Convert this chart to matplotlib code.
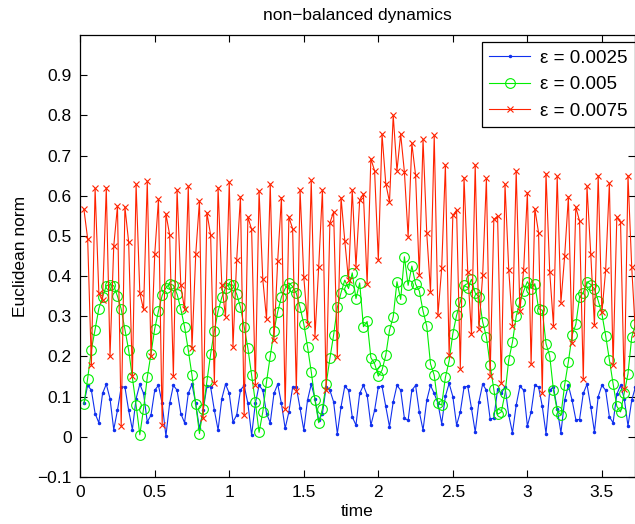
import numpy as np
import matplotlib
matplotlib.use("Agg")
import matplotlib.pyplot as plt

# =====================================================
# DATA
# =====================================================

eps_0025 = [
    0.083, 0.128, 0.116, 0.058, 0.035, 0.108, 0.131, 0.095, 0.018, 0.066,
    0.124, 0.124, 0.066, 0.018, 0.095, 0.131, 0.108, 0.037, 0.054, 0.116,
    0.128, 0.083, 0.002, 0.083, 0.128, 0.116, 0.058, 0.035, 0.108, 0.131,
    0.083, 0.021, 0.066, 0.126, 0.124, 0.066, 0.017, 0.095, 0.131, 0.108,
    0.037, 0.054, 0.116, 0.128, 0.083, 0.004, 0.083, 0.128, 0.116, 0.058,
    0.035, 0.108, 0.131, 0.083, 0.021, 0.062, 0.123, 0.123, 0.071, 0.017,
    0.091, 0.131, 0.095, 0.041, 0.058, 0.124, 0.116, 0.087, 0.008, 0.075,
    0.126, 0.116, 0.050, 0.029, 0.108, 0.128, 0.104, 0.029, 0.066, 0.124,
    0.126, 0.076, 0.025, 0.087, 0.128, 0.116, 0.046, 0.041, 0.116, 0.128,
    0.062, 0.017, 0.091, 0.128, 0.108, 0.083, 0.033, 0.101, 0.133, 0.100,
    0.029, 0.062, 0.123, 0.126, 0.071, 0.012, 0.087, 0.131, 0.116, 0.045,
    0.046, 0.118, 0.108, 0.124, 0.054, 0.010, 0.079, 0.126, 0.116, 0.027,
    0.062, 0.128, 0.124, 0.076, 0.008, 0.116, 0.124, 0.070, 0.010, 0.091,
    0.128, 0.091, 0.043, 0.043, 0.108, 0.131, 0.075, 0.012, 0.100, 0.128,
    0.116, 0.050, 0.035, 0.106, 0.128, 0.095, 0.027, 0.091, 0.124,
]

eps_005 = [
    0.081, 0.145, 0.216, 0.267, 0.319, 0.348, 0.376, 0.379, 0.376, 0.350,
    0.318, 0.267, 0.216, 0.148, 0.079, 0.005, 0.070, 0.148, 0.207, 0.269,
    0.313, 0.352, 0.371, 0.381, 0.377, 0.355, 0.318, 0.274, 0.216, 0.153,
    0.081, 0.008, 0.070, 0.139, 0.206, 0.264, 0.313, 0.347, 0.371, 0.381,
    0.377, 0.355, 0.323, 0.274, 0.220, 0.153, 0.087, 0.011, 0.062, 0.137,
    0.201, 0.264, 0.311, 0.348, 0.369, 0.383, 0.374, 0.357, 0.322, 0.281,
    0.224, 0.162, 0.091, 0.035, 0.070, 0.131, 0.195, 0.253, 0.322, 0.359,
    0.390, 0.369, 0.408, 0.344, 0.383, 0.274, 0.287, 0.197, 0.182, 0.151,
    0.166, 0.203, 0.265, 0.299, 0.386, 0.342, 0.448, 0.377, 0.425, 0.380,
    0.363, 0.313, 0.275, 0.182, 0.153, 0.083, 0.079, 0.148, 0.189, 0.257,
    0.302, 0.336, 0.377, 0.371, 0.392, 0.358, 0.348, 0.286, 0.249, 0.179,
    0.118, 0.056, 0.062, 0.108, 0.191, 0.236, 0.300, 0.336, 0.363, 0.386,
    0.369, 0.381, 0.319, 0.315, 0.232, 0.201, 0.116, 0.065, 0.054, 0.129,
    0.187, 0.253, 0.280, 0.347, 0.359, 0.386, 0.379, 0.368, 0.339, 0.306,
    0.252, 0.192, 0.132, 0.076, 0.062, 0.110, 0.157, 0.248, 0.280,
]

eps_0075 = [
    0.566, 0.493, 0.178, 0.618, 0.358, 0.340, 0.620, 0.200, 0.474, 0.574,
    0.027, 0.572, 0.485, 0.151, 0.628, 0.358, 0.317, 0.636, 0.201, 0.454,
    0.591, 0.029, 0.555, 0.503, 0.151, 0.615, 0.377, 0.317, 0.623, 0.220,
    0.454, 0.587, 0.046, 0.558, 0.502, 0.133, 0.620, 0.378, 0.299, 0.634,
    0.224, 0.441, 0.597, 0.054, 0.547, 0.516, 0.129, 0.612, 0.392, 0.293,
    0.629, 0.242, 0.438, 0.595, 0.070, 0.547, 0.518, 0.114, 0.614, 0.398,
    0.282, 0.638, 0.249, 0.423, 0.614, 0.116, 0.532, 0.560, 0.199, 0.595,
    0.488, 0.390, 0.614, 0.423, 0.589, 0.604, 0.380, 0.692, 0.662, 0.439,
    0.753, 0.630, 0.585, 0.800, 0.662, 0.753, 0.659, 0.498, 0.730, 0.651,
    0.402, 0.740, 0.506, 0.361, 0.750, 0.303, 0.419, 0.676, 0.203, 0.551,
    0.564, 0.170, 0.645, 0.410, 0.255, 0.676, 0.269, 0.402, 0.643, 0.151,
    0.541, 0.549, 0.134, 0.628, 0.416, 0.277, 0.662, 0.313, 0.416, 0.607,
    0.181, 0.568, 0.508, 0.109, 0.655, 0.410, 0.277, 0.648, 0.334, 0.449,
    0.597, 0.234, 0.572, 0.537, 0.143, 0.623, 0.456, 0.278, 0.650, 0.310,
    0.414, 0.631, 0.178, 0.546, 0.534, 0.120, 0.650, 0.422, 0.257,
]

# sample times (time step 0.025)
time = np.round(np.arange(1, len(eps_0075) + 1) * 0.025, 3)

labels = ["ε = 0.0025", "ε = 0.005", "ε = 0.0075"]
xticks = [0, 0.5, 1, 1.5, 2, 2.5, 3, 3.5]
yticks = [-0.1, 0, 0.1, 0.2, 0.3, 0.4, 0.5, 0.6, 0.7, 0.8, 0.9]

# =====================================================
# PLOT
# =====================================================

plt.rcParams["font.family"] = ["Liberation Sans", "DejaVu Sans"]

fig = plt.figure(figsize=(6.35, 5.24), dpi=100)
ax = fig.add_axes([80.2 / 635, 47 / 524, 554.5 / 635, 442 / 524])

ax.plot(time, eps_0025, color="#1030ee", lw=0.8, marker=".", ms=3,
        label=labels[0])
ax.plot(time, eps_005, color="#00ee00", lw=0.8, marker="o", ms=7,
        mfc="none", mew=0.8, label=labels[1])
ax.plot(time, eps_0075, color="#ff2200", lw=0.8, marker="x", ms=5,
        mew=0.8, label=labels[2])

ax.set_xlim(0, 3.72)
ax.set_ylim(-0.1, 1.0)
ax.set_xticks(xticks)
ax.set_xticklabels([f"{t:g}" for t in xticks])
ax.set_yticks(yticks)
ax.set_yticklabels([f"{t:g}".replace("-", "\u2212") for t in yticks])

ax.tick_params(direction="in", top=True, right=True, length=5, width=0.8,
               labelsize=12.5, pad=6)
for sp in ax.spines.values():
    sp.set_linewidth(0.9)

ax.set_title("non\u2212balanced dynamics", fontsize=12.5, pad=11)
ax.set_xlabel("time", fontsize=12.5, labelpad=3)
ax.set_ylabel("Euclidean norm", fontsize=12.5, labelpad=7)

leg = ax.legend(loc="upper right", bbox_to_anchor=(1.0, 0.984),
                fontsize=13.5, frameon=True, fancybox=False,
                edgecolor="black", framealpha=1, handlelength=2.2,
                borderpad=0.4, labelspacing=0.5, handletextpad=0.5,
                borderaxespad=0)
leg.get_frame().set_linewidth(0.9)

fig.savefig("out.png", dpi=100)
plt.close()
